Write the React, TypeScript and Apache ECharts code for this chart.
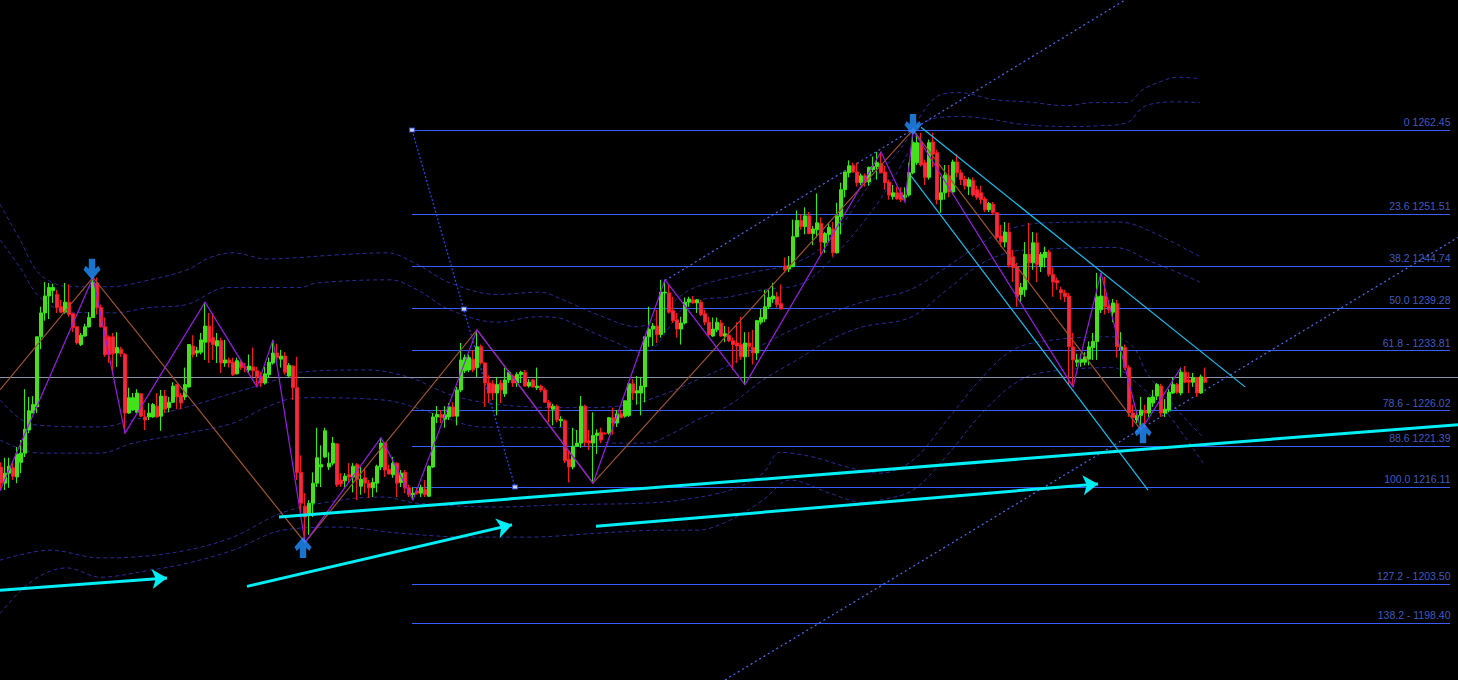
import React, { useEffect, useRef } from "react";
import * as echarts from "echarts";

// [open, close, low, high] per bar, bar index = position in array
const candles: number[][] = [
  [1218.7,1216.6,1215.7,1219.3],[1216.6,1217.9,1215.7,1219.9],[1217.9,1218.8,1216.0,1219.9],[1218.6,1217.5,1217.0,1219.2],
  [1217.4,1220.4,1216.6,1221.3],[1219.3,1220.5,1217.9,1222.2],[1220.5,1223.6,1220.0,1228.8],[1223.5,1226.0,1223.1,1227.8],
  [1225.7,1226.8,1225.7,1227.9],[1226.5,1235.6,1225.7,1235.6],[1235.6,1238.7,1234.0,1239.5],[1238.7,1240.9,1237.7,1242.7],
  [1240.9,1242.0,1237.9,1242.6],[1241.6,1242.0,1240.0,1242.5],[1241.1,1239.4,1238.7,1241.7],[1239.5,1238.8,1238.7,1240.4],
  [1238.8,1240.1,1238.6,1242.6],[1240.1,1238.5,1238.2,1242.4],[1238.6,1236.8,1236.2,1238.7],[1236.9,1234.8,1234.6,1236.9],
  [1234.6,1235.8,1234.4,1236.1],[1235.7,1236.9,1235.6,1237.3],[1236.9,1238.1,1236.8,1238.8],[1238.1,1242.7,1238.1,1243.3],
  [1242.6,1239.4,1238.5,1243.3],[1239.4,1236.9,1236.8,1239.8],[1236.9,1233.3,1233.0,1238.1],[1235.6,1233.3,1232.2,1235.8],
  [1235.6,1233.4,1230.7,1236.1],[1233.5,1234.2,1231.7,1236.2],[1234.0,1233.4,1233.0,1234.3],[1233.3,1225.7,1223.1,1233.5],
  [1225.7,1227.7,1225.6,1229.0],[1226.1,1227.7,1226.0,1228.3],[1225.8,1228.3,1225.7,1228.8],[1228.2,1225.3,1225.2,1228.3],
  [1225.2,1224.8,1223.5,1226.1],[1225.2,1225.7,1224.8,1227.0],[1225.2,1226.8,1225.1,1227.0],[1226.6,1225.2,1225.1,1228.3],
  [1225.3,1227.9,1223.4,1228.7],[1227.9,1226.2,1225.7,1228.7],[1226.4,1227.1,1225.8,1227.8],[1227.1,1229.2,1227.0,1229.7],
  [1229.4,1227.8,1226.2,1229.5],[1228.0,1227.0,1226.2,1228.3],[1227.8,1229.4,1227.4,1231.6],[1229.1,1234.6,1229.0,1234.6],
  [1234.4,1233.3,1232.9,1235.8],[1233.5,1233.8,1233.0,1234.3],[1233.6,1235.2,1233.3,1236.1],[1234.9,1237.0,1232.6,1240.1],
  [1237.0,1234.9,1232.2,1238.7],[1235.5,1234.6,1232.6,1238.7],[1234.4,1235.1,1232.2,1236.1],[1235.1,1232.2,1230.9,1235.5],
  [1232.2,1232.6,1231.7,1235.2],[1232.6,1232.2,1231.6,1232.9],[1232.3,1230.7,1230.5,1232.9],[1230.8,1232.5,1230.7,1232.9],
  [1232.3,1231.6,1231.3,1232.6],[1231.7,1231.6,1231.0,1232.2],[1231.3,1231.8,1230.9,1233.3],[1231.7,1231.2,1230.4,1234.2],
  [1231.2,1230.4,1229.1,1231.7],[1230.5,1229.6,1229.1,1231.0],[1229.6,1230.8,1229.4,1231.7],[1230.7,1232.3,1230.3,1232.9],
  [1232.2,1233.5,1232.0,1235.2],[1233.5,1232.9,1232.2,1234.7],[1232.7,1233.1,1231.6,1233.9],[1233.1,1231.0,1230.7,1233.6],
  [1230.5,1231.9,1230.4,1232.2],[1231.8,1229.0,1227.4,1231.9],[1229.0,1218.0,1217.0,1233.0],[1218.0,1214.0,1212.7,1220.2],
  [1213.6,1212.2,1208.9,1215.3],[1212.7,1214.0,1209.9,1214.4],[1214.0,1216.6,1212.2,1218.0],[1216.6,1219.9,1216.1,1223.8],
  [1218.7,1219.0,1216.1,1221.5],[1220.0,1223.4,1219.9,1223.8],[1218.7,1219.2,1218.3,1220.6],[1219.2,1221.8,1218.9,1222.6],
  [1221.7,1216.4,1216.1,1221.8],[1217.0,1216.5,1216.1,1217.9],[1216.9,1217.5,1216.1,1217.9],[1217.7,1217.4,1216.7,1219.2],
  [1217.4,1218.8,1215.4,1219.2],[1219.0,1217.1,1214.4,1219.2],[1216.2,1217.1,1215.1,1218.7],[1217.3,1216.6,1215.3,1218.6],
  [1216.6,1216.0,1214.7,1217.0],[1216.0,1216.7,1214.8,1217.3],[1216.6,1218.8,1215.4,1219.0],[1218.7,1221.8,1218.3,1222.5],
  [1221.8,1218.3,1217.4,1221.9],[1218.4,1217.8,1217.7,1219.0],[1217.7,1219.2,1217.3,1220.0],[1219.2,1216.6,1214.8,1219.3],
  [1216.7,1217.9,1216.1,1218.3],[1218.0,1216.0,1215.3,1218.3],[1216.0,1215.1,1214.8,1216.4],[1215.1,1215.3,1214.4,1216.0],
  [1215.6,1215.3,1215.1,1216.0],[1215.3,1216.0,1214.8,1216.4],[1215.8,1215.1,1214.8,1217.0],[1214.9,1218.8,1214.8,1218.9],
  [1218.7,1225.2,1218.6,1225.7],[1225.2,1225.5,1224.4,1226.6],[1225.5,1225.1,1224.4,1226.1],[1224.9,1225.5,1223.8,1226.6],
  [1225.2,1226.5,1224.8,1227.0],[1226.5,1225.3,1225.2,1227.1],[1225.3,1228.7,1224.1,1229.1],[1228.7,1232.6,1228.4,1234.8],
  [1231.2,1232.9,1230.9,1233.3],[1231.3,1232.9,1231.0,1233.3],[1232.7,1231.3,1231.0,1233.9],[1231.6,1234.3,1230.4,1236.5],
  [1234.3,1232.2,1232.0,1234.6],[1232.2,1229.6,1226.5,1232.3],[1229.6,1228.3,1227.0,1230.6],[1229.5,1228.3,1227.4,1230.0],
  [1228.3,1229.4,1225.4,1230.4],[1229.6,1228.7,1227.0,1230.0],[1228.2,1230.0,1227.8,1231.6],[1230.0,1231.0,1229.6,1231.3],
  [1230.5,1229.6,1229.1,1230.7],[1229.6,1230.7,1229.1,1231.0],[1230.7,1231.0,1229.6,1231.2],[1231.0,1229.2,1229.1,1231.3],
  [1229.2,1229.7,1229.0,1230.1],[1230.0,1229.1,1229.0,1230.1],[1229.0,1229.2,1228.7,1231.6],[1229.2,1228.7,1228.4,1229.4],
  [1228.7,1227.1,1227.0,1229.0],[1227.1,1226.4,1224.5,1227.4],[1226.2,1226.6,1224.1,1226.9],[1226.6,1224.8,1224.5,1226.8],
  [1224.7,1224.9,1223.9,1225.3],[1224.7,1219.5,1219.2,1224.9],[1219.7,1218.7,1216.7,1220.9],[1218.7,1221.4,1218.4,1223.8],
  [1221.4,1221.8,1221.3,1223.5],[1221.8,1226.6,1221.2,1227.9],[1226.6,1221.9,1221.4,1226.8],[1222.1,1221.8,1220.9,1223.5],
  [1221.8,1222.8,1216.6,1225.8],[1222.8,1223.1,1220.4,1223.6],[1223.2,1222.2,1221.8,1223.8],[1223.1,1223.0,1222.9,1223.2],
  [1223.1,1225.1,1222.9,1225.2],[1225.1,1224.4,1222.9,1226.4],[1224.4,1225.6,1223.9,1226.1],[1225.6,1225.1,1225.1,1226.1],
  [1225.3,1227.3,1225.1,1227.3],[1225.4,1229.5,1225.2,1229.7],[1229.5,1228.3,1227.4,1230.1],[1228.3,1228.6,1226.8,1230.5],
  [1228.3,1229.2,1225.4,1230.4],[1229.1,1235.6,1227.1,1235.7],[1235.6,1236.6,1234.3,1239.5],[1236.6,1237.0,1234.4,1237.4],
  [1237.0,1235.9,1234.8,1239.1],[1235.9,1241.4,1235.5,1243.0],[1241.3,1241.4,1236.1,1243.0],[1241.3,1238.8,1238.6,1242.4],
  [1239.0,1237.7,1237.4,1240.8],[1237.8,1236.6,1235.5,1238.7],[1236.6,1237.4,1234.6,1238.2],[1237.4,1240.1,1237.2,1240.7],
  [1240.1,1240.5,1239.5,1240.8],[1240.4,1240.0,1239.9,1240.9],[1240.0,1240.4,1238.7,1240.5],[1240.1,1238.5,1238.3,1240.4],
  [1238.6,1237.5,1237.1,1239.1],[1237.5,1235.9,1235.6,1238.2],[1235.7,1236.6,1235.6,1238.1],[1236.5,1237.5,1236.2,1238.1],
  [1237.4,1235.7,1235.6,1237.8],[1235.7,1236.0,1234.9,1237.0],[1235.8,1235.1,1234.9,1236.9],[1235.1,1234.6,1231.3,1235.5],
  [1234.8,1234.4,1232.2,1237.5],[1234.6,1233.0,1232.6,1238.2],[1233.0,1234.8,1229.4,1236.2],[1234.8,1234.3,1233.0,1236.2],
  [1234.2,1233.5,1232.0,1236.5],[1233.5,1237.7,1232.6,1237.8],[1237.5,1238.1,1237.2,1239.2],[1237.9,1239.5,1237.5,1241.7],
  [1239.5,1240.7,1239.2,1241.8],[1240.5,1240.9,1240.0,1242.6],[1240.8,1239.8,1239.4,1241.4],[1239.9,1239.2,1239.2,1242.4],
  [1244.8,1244.3,1243.9,1245.9],[1244.4,1244.8,1244.0,1246.1],[1244.7,1248.6,1244.7,1250.8],[1248.6,1250.7,1248.5,1252.0],
  [1250.7,1249.9,1249.5,1251.5],[1249.9,1251.3,1248.9,1252.4],[1251.3,1249.0,1248.9,1251.8],[1249.0,1249.6,1247.5,1250.0],
  [1249.5,1250.4,1248.5,1254.2],[1250.3,1247.9,1246.3,1251.1],[1247.8,1249.0,1246.5,1249.2],[1248.9,1249.8,1247.9,1250.4],
  [1249.6,1246.5,1246.0,1250.5],[1246.5,1251.3,1246.4,1253.0],[1251.2,1254.7,1248.9,1255.6],[1254.7,1257.0,1253.7,1257.0],
  [1256.9,1257.8,1256.3,1258.5],[1257.8,1257.0,1256.9,1258.2],[1257.0,1255.6,1255.1,1258.2],[1255.6,1256.5,1255.3,1256.8],
  [1256.5,1255.7,1255.1,1256.8],[1255.7,1257.6,1255.2,1257.7],[1257.3,1257.7,1257.0,1259.0],[1257.7,1258.2,1256.0,1259.6],
  [1258.1,1256.9,1256.8,1259.6],[1257.0,1255.6,1254.7,1257.8],[1255.7,1254.0,1253.4,1256.0],[1253.8,1254.3,1253.4,1255.3],
  [1254.3,1253.5,1253.4,1255.1],[1254.3,1253.4,1253.1,1255.0],[1253.7,1254.0,1253.1,1255.0],[1254.0,1256.9,1253.8,1258.2],
  [1256.9,1260.8,1256.7,1262.45],[1258.2,1260.8,1257.9,1262.0],[1260.8,1257.9,1257.7,1262.1],[1258.2,1256.3,1255.3,1258.6],
  [1256.3,1260.8,1256.0,1261.2],[1260.9,1259.3,1257.6,1262.1],[1259.5,1253.4,1252.8,1259.9],[1253.4,1254.3,1251.7,1256.4],
  [1254.3,1256.6,1253.4,1257.9],[1256.5,1254.4,1253.7,1257.9],[1254.4,1258.3,1254.1,1258.6],[1258.3,1256.9,1256.3,1259.3],
  [1256.9,1256.0,1255.3,1257.3],[1256.1,1255.2,1254.7,1256.5],[1255.1,1256.0,1254.0,1256.3],[1255.9,1254.0,1253.8,1256.3],
  [1254.7,1253.7,1253.4,1255.2],[1254.3,1253.4,1252.8,1255.2],[1253.5,1252.1,1251.8,1253.8],[1252.1,1252.9,1251.8,1253.1],
  [1252.8,1251.7,1251.4,1253.1],[1251.7,1248.5,1248.2,1251.8],[1248.7,1247.9,1247.3,1250.1],[1247.9,1249.2,1247.2,1250.5],
  [1249.2,1244.9,1244.6,1250.4],[1246.0,1244.6,1242.7,1246.9],[1244.7,1240.8,1239.5,1245.2],[1241.1,1242.0,1240.0,1242.6],
  [1241.7,1246.3,1240.8,1247.9],[1246.3,1245.2,1242.6,1250.4],[1245.2,1247.8,1244.3,1249.2],[1247.8,1245.0,1242.7,1249.1],
  [1244.7,1246.3,1244.0,1246.6],[1245.9,1246.6,1244.6,1247.3],[1246.6,1243.7,1243.4,1246.9],[1243.7,1242.7,1240.8,1244.6],
  [1242.9,1242.6,1241.7,1243.3],[1241.7,1241.3,1240.4,1242.1],[1241.3,1240.8,1240.1,1241.7],[1240.9,1234.3,1229.4,1241.3],
  [1234.3,1232.6,1229.1,1236.1],[1232.3,1232.6,1231.7,1233.4],[1232.3,1232.7,1231.7,1233.4],[1232.3,1233.0,1231.9,1233.6],
  [1232.7,1234.3,1231.9,1235.0],[1234.2,1235.0,1232.6,1236.1],[1235.0,1240.8,1232.6,1243.9],[1239.1,1240.9,1238.7,1243.9],
  [1240.9,1239.5,1238.5,1243.4],[1239.6,1239.1,1238.7,1240.4],[1238.8,1240.0,1237.5,1240.5],[1239.9,1234.3,1232.9,1240.4],
  [1233.9,1234.3,1230.4,1236.2],[1234.2,1231.6,1231.3,1234.6],[1231.6,1225.7,1225.2,1231.9],[1225.7,1225.1,1223.9,1226.8],
  [1224.8,1225.4,1224.4,1226.1],[1225.4,1226.1,1223.5,1227.8],[1226.0,1225.7,1223.8,1226.8],[1225.7,1227.7,1225.2,1227.8],
  [1227.0,1227.8,1226.5,1228.7],[1227.9,1229.4,1227.4,1229.6],[1229.2,1225.7,1225.2,1229.5],[1225.7,1226.2,1225.2,1227.5],
  [1226.1,1228.4,1225.8,1228.8],[1228.3,1229.4,1228.2,1230.3],[1229.4,1228.4,1228.2,1229.6],[1228.3,1231.0,1228.0,1231.6],
  [1231.0,1229.7,1229.6,1231.8],[1230.0,1229.7,1228.3,1231.0],[1229.7,1230.3,1229.1,1230.9],[1230.3,1228.3,1227.8,1230.4],
  [1228.3,1230.4,1228.2,1230.7],[1230.3,1229.7,1229.6,1231.6],
];

const fibPrices = [1262.45, 1251.51, 1244.74, 1239.28, 1233.81, 1226.02, 1221.39, 1216.11, 1203.5, 1198.4];
const fibLabels = ["0 1262.45", "23.6 1251.51", "38.2 1244.74", "50.0 1239.28", "61.8 - 1233.81",
  "78.6 - 1226.02", "88.6 1221.39", "100.0 1216.11", "127.2 - 1203.50", "138.2 - 1198.40"];
const fibStart = 102.75;
const fibEnd = 362.25;
const fibAnchor = [[102.75, 1262.45], [115.75, 1239.2], [128.5, 1216.11]];

const currentPrice = 1230.3;

const zigzagMinor = [[-0.25,1215.6],[23,1243.3],[31,1223.1],[51,1240.1],[64,1229.1],[68,1235.2],[76,1208.9],
  [95,1222.5],[103,1214.4],[119,1236.5],[148,1216.6],[166,1243.0],[186,1229.4],[220,1259.6],[226,1253.1],
  [228,1262.45],[268,1229.1],[275,1243.9],[285,1223.5],[295,1231.6]];
const zigzagMajor = [[-0.25,1228.7],[23,1243.3],[76,1208.9],[119,1236.5],[148,1216.6],[228,1262.45],[285,1223.5]];

const channelDown = [[[230,1262.8],[311,1229.1]], [[227.5,1256.5],[286.75,1215.7]]];
const trendDotted = [[[166,1242.9],[281,1279.32]], [[181,1191.06],[364.25,1248.5]]];
const cyanArrows = [[[-0.25,1202.7],[41.5,1204.3]], [[61.5,1203.2],[127.75,1211.2]], [[148.75,1211.0],[274.25,1216.5]]];
const cyanLine = [[69.5,1212.2],[364.25,1224.2]];

const downArrows = [[22.75,1243.0],[228,1261.8]];
const upArrows = [[75.5,1209.6],[285.5,1224.5]];

const bandUO = [[-0.25,1252.8],[4.75,1248.2],[9.75,1243.7],[17.25,1242.1],[27.25,1242.1],[37.25,1243.0],[46.5,1244.3],
  [52.25,1245.9],[58,1246.5],[66.5,1245.7],[74.75,1245.9],[83,1246.2],[96.5,1246.5],[104,1245.0],[112.25,1242.6],
  [124,1241.1],[134.75,1241.4],[140.5,1240.4],[149,1238.5],[159,1236.9],[172.25,1241.7],[185.5,1243.7],[199,1245.3],
  [207.25,1248.2],[217.25,1255.4],[224.75,1259.9],[234,1266.8],[239.75,1267.3],[248,1266.4],[256.5,1266.1],
  [266.5,1265.6],[273,1266.0],[281.5,1266.0],[285.5,1267.7],[289.75,1268.7],[294,1269.3],[299.75,1269.1]];
const bandUI = [[-0.25,1248.2],[4.75,1244.6],[9.75,1240.7],[17.25,1238.8],[28,1238.7],[37.25,1239.4],[46.5,1239.8],
  [56.5,1242.0],[74.75,1242.0],[79,1242.6],[97.25,1243.0],[104,1241.7],[112.25,1239.1],[124,1237.5],[134,1238.2],
  [139,1238.1],[144.75,1236.9],[154,1234.8],[160.5,1233.5],[172.25,1240.0],[182.25,1240.8],[190.5,1241.7],
  [200.5,1242.6],[209.75,1246.9],[219.75,1253.4],[227.25,1259.9],[231,1263.5],[239.75,1264.2],[248,1263.8],
  [254.75,1263.2],[266.5,1262.9],[274.75,1263.0],[281.5,1263.4],[285.5,1265.4],[289.75,1266.0],[294,1266.1],[299.75,1266.0]];
const bandN1 = [[-0.25,1227.4],[8,1224.2],[24.75,1223.9],[33,1224.8],[46.5,1226.5],[58,1228.3],[66.5,1229.6],
  [74.75,1231.0],[91.5,1231.3],[102.25,1230.3],[112.25,1228.1],[121.5,1227.0],[132.25,1226.5],[144.75,1226.4],
  [157.25,1226.8],[165.5,1228.1],[174,1230.0],[182.25,1232.0],[190.5,1234.6],[199,1236.8],[207.25,1238.7],
  [217.25,1240.4],[227.25,1241.7],[236.5,1244.7],[244.75,1247.6],[251.5,1249.5],[261.5,1250.4],[278,1250.5],
  [281.5,1250.4],[286.5,1249.5],[294,1247.6],[299.75,1246.0]];
const bandN2 = [[-0.25,1222.2],[9.75,1220.5],[24.75,1220.5],[33,1221.8],[46.5,1223.1],[58,1224.4],[66.5,1226.5],
  [74.75,1227.7],[95.5,1227.4],[108,1225.7],[119.75,1223.9],[140.5,1223.8],[153,1221.8],[161.5,1221.8],[168,1223.1],
  [174,1224.8],[182.25,1226.8],[190.5,1230.0],[199,1232.6],[207.25,1235.2],[215.5,1236.9],[227.25,1238.1],
  [236.5,1241.7],[244.75,1245.0],[252.25,1246.6],[257.25,1246.9],[278,1247.2],[281.5,1246.9],[286.5,1245.6],
  [294,1244.0],[299.75,1242.7]];
const bandN3 = [[-0.25,1206.6],[12.25,1207.9],[24.75,1206.9],[33,1207.0],[46.5,1207.9],[58,1209.6],[70.5,1212.8],
  [84.75,1214.4],[95.5,1214.8],[104,1214.0],[124,1213.5],[140.5,1213.8],[160.5,1214.0],[169.75,1214.4],
  [182.25,1215.7],[190.5,1217.9],[194.75,1220.6],[203,1220.0],[211.5,1218.7],[219.75,1217.9],[228,1219.6],
  [236.5,1224.8],[244.75,1230.0],[253,1233.9],[263,1235.2],[278,1235.6],[283,1234.3],[286.5,1230.9],
  [294.75,1225.7],[300.5,1222.6]];
const bandN4 = [[-0.25,1199.7],[8,1204.0],[16.5,1205.6],[24.75,1204.4],[37.25,1205.3],[46.5,1206.2],[58,1207.9],
  [70.5,1210.5],[84.75,1210.9],[99.75,1210.1],[117.25,1209.6],[132.25,1209.6],[149,1210.1],[165.5,1210.5],
  [174,1210.5],[182.25,1211.8],[190.5,1214.4],[197.25,1217.0],[207.25,1215.3],[215.5,1214.1],[219.75,1214.4],
  [228,1215.7],[236.5,1220.2],[244.75,1225.4],[253,1229.4],[259.75,1230.9],[278,1231.6],[283,1230.0],
  [291.5,1225.7],[300.5,1219.2]];

const X_MIN = -0.25;
const X_MAX = 364.25;
const Y_MIN = 1191.05;
const Y_MAX = 1279.32;

const DOWN_PATH = "path://M5 0H11V10L14 7L16 11L8 21L0 11L2 7L5 10Z";
const UP_PATH = "path://M5 21H11V11L14 14L16 10L8 0L0 10L2 14L5 11Z";

export default function App() {
  const ref = useRef<HTMLDivElement>(null);

  useEffect(() => {
    if (!ref.current) return;
    const chart = echarts.init(ref.current, undefined, { renderer: "svg" });

    const lines = (data: number[][][], color: string, width: number, type: any, z: number, extra: any = {}) => ({
      type: "lines",
      coordinateSystem: "cartesian2d",
      silent: true,
      z,
      data: data.map((c) => ({ coords: c })),
      lineStyle: { color, width, type, opacity: 1, curveness: 0 },
      ...extra,
    });

    const bands = [bandUO, bandUI, bandN1, bandN2, bandN3, bandN4].map((d) => ({
      type: "line",
      data: d,
      showSymbol: false,
      symbol: "none",
      smooth: 0.35,
      silent: true,
      z: 1,
      lineStyle: { color: "#2a2a9a", width: 1, type: [4, 3] },
    }));

    const option: any = {
      animation: false,
      backgroundColor: "#000000",
      grid: { left: 0, right: 0, top: 0, bottom: 0 },
      xAxis: { type: "value", min: X_MIN, max: X_MAX, show: false },
      yAxis: { type: "value", min: Y_MIN, max: Y_MAX, show: false, scale: true },
      series: [
        ...bands,
        lines(fibPrices.map((p) => [[fibStart, p], [fibEnd, p]]), "#3a5ef5", 1.2, "solid", 2),
        lines([[[X_MIN, currentPrice], [X_MAX, currentPrice]]], "#8a94a8", 1.2, "solid", 2),
        lines(trendDotted, "#4a6cf5", 1.2, [2, 3], 2),
        lines([[fibAnchor[0], fibAnchor[2]]], "#2448f0", 1.2, [2, 2], 2),
        {
          type: "scatter",
          data: fibAnchor,
          symbol: "rect",
          symbolSize: [5, 4],
          silent: true,
          z: 3,
          itemStyle: { color: "#ffffff", borderColor: "#2448f0", borderWidth: 1 },
        },
        {
          type: "candlestick",
          data: candles.map((c, i) => [i, c[0], c[1], c[2], c[3]]),
          encode: { x: 0, y: [1, 2, 3, 4] },
          barWidth: 2.6,
          silent: true,
          z: 3,
          itemStyle: {
            color: "#58d42a",
            color0: "#e4304a",
            borderColor: "#2cf00a",
            borderColor0: "#ff1616",
            borderWidth: 1,
          },
        },
        lines([zigzagMajor], "#a0522d", 1.2, "solid", 4, { polyline: true }),
        lines([zigzagMinor], "#9a1ae6", 1.2, "solid", 4, { polyline: true }),
        lines(channelDown, "#14bff2", 1.2, "solid", 4),
        lines([cyanLine], "#00eef5", 3, "solid", 5),
        lines(cyanArrows, "#00eef5", 3, "solid", 5, { symbol: ["none", "arrow"], symbolSize: [0, 15] }),
        {
          type: "scatter",
          data: downArrows,
          symbol: DOWN_PATH,
          symbolSize: [17, 21],
          symbolOffset: [0, "-50%"],
          silent: true,
          z: 6,
          itemStyle: { color: "#2090ff" },
        },
        {
          type: "scatter",
          data: upArrows,
          symbol: UP_PATH,
          symbolSize: [17, 21],
          symbolOffset: [0, "50%"],
          silent: true,
          z: 6,
          itemStyle: { color: "#2090ff" },
        },
        {
          type: "scatter",
          data: fibPrices.map((p, k) => ({ value: [fibEnd, p], name: fibLabels[k] })),
          symbolSize: 1,
          silent: true,
          z: 6,
          itemStyle: { color: "rgba(0,0,0,0)" },
          label: {
            show: true,
            formatter: "{b}",
            position: "left",
            distance: 0,
            offset: [1, -8],
            color: "#5272f0",
            fontSize: 10.5,
            fontFamily: "Liberation Sans, Arial, sans-serif",
          },
        },
      ],
    };

    chart.setOption(option);
    return () => chart.dispose();
  }, []);

  return (
    <div
      ref={ref}
      style={{ position: "fixed", left: 0, top: 0, width: 1458, height: 680, background: "#000000" }}
    />
  );
}
